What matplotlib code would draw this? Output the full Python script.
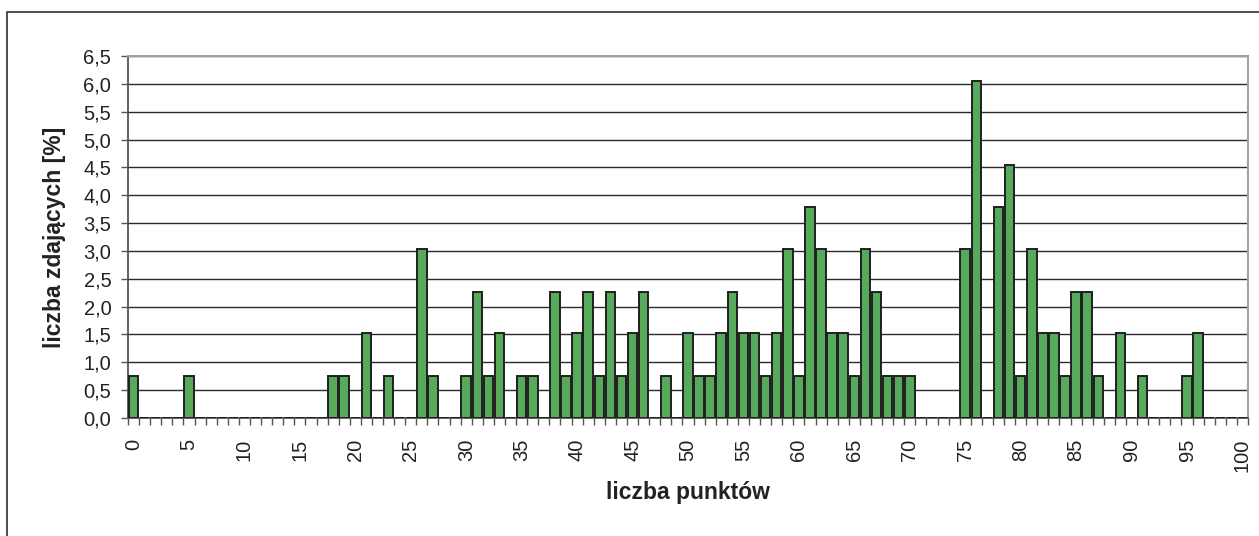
import numpy as np
import matplotlib
matplotlib.use("Agg")
import matplotlib.pyplot as plt
from matplotlib.patches import Rectangle
from matplotlib.ticker import FixedLocator, FuncFormatter

plt.rcParams['font.family'] = ['Liberation Sans', 'DejaVu Sans']

# points scored -> share of candidates [%]
points = list(range(0, 101))
share = {
    0: 0.76, 5: 0.76, 18: 0.76, 19: 0.76, 21: 1.52, 23: 0.76,
    26: 3.03, 27: 0.76, 30: 0.76, 31: 2.27, 32: 0.76, 33: 1.52,
    35: 0.76, 36: 0.76, 38: 2.27, 39: 0.76, 40: 1.52, 41: 2.27,
    42: 0.76, 43: 2.27, 44: 0.76, 45: 1.52, 46: 2.27, 48: 0.76,
    50: 1.52, 51: 0.76, 52: 0.76, 53: 1.52, 54: 2.27, 55: 1.52,
    56: 1.52, 57: 0.76, 58: 1.52, 59: 3.03, 60: 0.76, 61: 3.79,
    62: 3.03, 63: 1.52, 64: 1.52, 65: 0.76, 66: 3.03, 67: 2.27,
    68: 0.76, 69: 0.76, 70: 0.76,
    75: 3.03, 76: 6.06, 78: 3.79, 79: 4.55, 80: 0.76, 81: 3.03,
    82: 1.52, 83: 1.52, 84: 0.76, 85: 2.27, 86: 2.27, 87: 0.76,
    89: 1.52, 91: 0.76, 95: 0.76, 96: 1.52,
}
values = [share.get(p, 0.0) for p in points]
x_labels = [str(p) for p in range(0, 101, 5)]

W, H = 1259, 536
fig = plt.figure(figsize=(W / 100, H / 100), dpi=100)
ax = fig.add_axes([128 / W, 1 - 418 / H, 1120 / W, 362 / H])

# outer chart frame
fig.add_artist(Rectangle((7 / W, -0.1), 2, 1 - 12 / H + 0.1,
                         transform=fig.transFigure, fill=False,
                         ec='#404040', lw=1.3))

ax.set_axisbelow(True)
ax.yaxis.grid(True, color='#2a2a2a', lw=1)
ax.bar(points, values, width=0.86, color='#57a95c', edgecolor='#202020', lw=1.4, zorder=3)

ax.set_xlim(-0.5, 100.5)
ax.set_ylim(0, 6.5)
ax.set_yticks(np.arange(0, 6.51, 0.5))
ax.yaxis.set_major_formatter(FuncFormatter(lambda v, p: f"{v:.1f}".replace('.', ',')))

ax.set_xticks(range(0, 101, 5))
ax.set_xticklabels(x_labels, rotation=90)
ax.xaxis.set_minor_locator(FixedLocator(np.arange(-0.5, 101, 1)))
ax.tick_params(axis='x', which='major', length=0, pad=15, labelsize=14.5, colors='#222222')
ax.tick_params(axis='x', which='minor', length=5, width=1, color='#555555')
ax.tick_params(axis='y', length=5, width=1, color='#555555', pad=7, labelsize=14.5, labelcolor='#222222')

for s in ['left', 'bottom']:
    ax.spines[s].set_color('#5a5252')
    ax.spines[s].set_linewidth(1.3)
for s in ['top', 'right']:
    ax.spines[s].set_color('#a89e9e')
    ax.spines[s].set_linewidth(1.5)

fig.text(688 / W, 1 - 493 / H, 'liczba punktów', ha='center', va='center',
         fontsize=16.5, fontweight='bold', color='#222222')
fig.text(55 / W, 1 - 237 / H, 'liczba zdających [%]', ha='center', va='center',
         rotation=90, fontsize=16.5, fontweight='bold', color='#222222')

fig.savefig('out.png', dpi=100)
